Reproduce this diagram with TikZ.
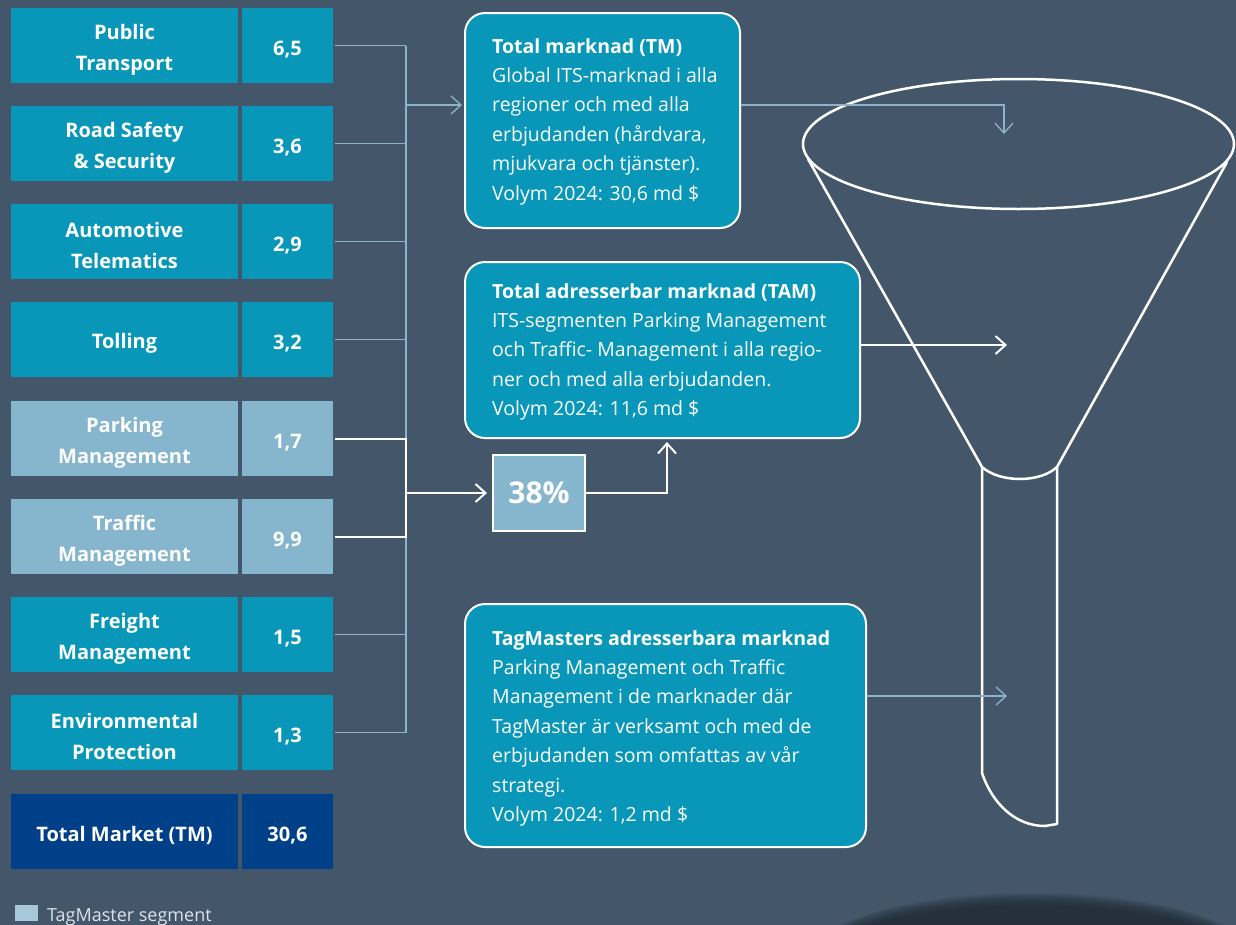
\documentclass[tikz,border=0pt]{standalone}
\usepackage{fontspec}
\setmainfont{Open Sans}
\usetikzlibrary{arrows.meta}
\definecolor{bg}{HTML}{44576A}
\definecolor{tealc}{HTML}{0897B9}
\definecolor{lightc}{HTML}{86B6CD}
\definecolor{darkc}{HTML}{004089}
\definecolor{linec}{HTML}{8DB3C8}
\definecolor{legc}{HTML}{A6C8D8}
\definecolor{legt}{HTML}{DCE3E8}
\definecolor{shd}{HTML}{1C252E}
\newcommand{\dn}[1]{\raisebox{-4pt}[\height][\depth]{#1}}
\newcommand{\two}[2]{\dn{\parbox{227pt}{\centering #1\\#2}}}
\tikzset{
  lab/.style={fill=tealc, text=white, font=\bfseries\fontsize{20}{31}\selectfont, align=center, minimum width=227pt, minimum height=75pt, inner sep=0pt},
  val/.style={lab, minimum width=91pt},
  tmseg/.style={fill=lightc},
  totseg/.style={fill=darkc},
  bigbox/.style={fill=tealc, draw=white, line width=2pt, rounded corners=20pt, inner sep=0pt},
  boxtext/.style={text=white, align=left, inner sep=0pt, anchor=north west, font=\fontsize{19.5}{29.4}\selectfont},
  lightline/.style={draw=linec, line width=1.3pt},
  whiteline/.style={draw=white, line width=2pt},
  tip/.style={-{Straight Barb[length=10pt,width=18pt]}},
  funnel/.style={draw=white, line width=2.5pt, line join=round}
}
\begin{document}
\begin{tikzpicture}[x=1pt,y=-1pt]
\useasboundingbox (0,0) rectangle (1236,924);
\fill[bg] (-5,-5) rectangle (1241,929);
\begin{scope}
\clip (-2,-2) rectangle (1238,926);
\foreach \k in {0,...,9}
  \fill[shd, opacity=0.12] (1032,962) ellipse [x radius={228-2*\k}, y radius={69-1.4*\k}];
\end{scope}

% left column
\node[lab] (l1) at (124.5,45.5) {\two{Public}{Transport}};
\node[val] (v1) at (287.5,45.5) {\dn{6,5}};
\node[lab] (l2) at (124.5,143.5) {\two{Road Safety}{\& Security}};
\node[val] (v2) at (287.5,143.5) {\dn{3,6}};
\node[lab] (l3) at (124.5,241.5) {\two{Automotive}{Telematics}};
\node[val] (v3) at (287.5,241.5) {\dn{2,9}};
\node[lab] (l4) at (124.5,339.5) {\dn{Tolling}};
\node[val] (v4) at (287.5,339.5) {\dn{3,2}};
\node[lab,tmseg] (l5) at (124.5,438.5) {\two{Parking}{Management}};
\node[val,tmseg] (v5) at (287.5,438.5) {\dn{1,7}};
\node[lab,tmseg] (l6) at (124.5,536.5) {\two{Traffic}{Management}};
\node[val,tmseg] (v6) at (287.5,536.5) {\dn{9,9}};
\node[lab] (l7) at (124.5,634.5) {\two{Freight}{Management}};
\node[val] (v7) at (287.5,634.5) {\dn{1,5}};
\node[lab] (l8) at (124.5,732.5) {\two{Environmental}{Protection}};
\node[val] (v8) at (287.5,732.5) {\dn{1,3}};
\node[lab,totseg] (l9) at (124.5,831.5) {\dn{Total Market (TM)}};
\node[val,totseg] (v9) at (287.5,831.5) {\dn{30,6}};

% legend
\node[fill=legc, minimum width=23pt, minimum height=16pt, inner sep=0pt] (leg) at (26.5,913) {};
\node[anchor=base west, inner sep=0pt, text=legt, font=\fontsize{18}{20}\selectfont] (legtext) at (47,921) {TagMaster segment};

% boxes
\node[bigbox, minimum width=275pt, minimum height=215pt] (tm) at (602.5,120.5) {};
\node[boxtext] (tmtext) at (492,38) {\textbf{Total marknad (TM)}\\Global ITS-marknad i alla\\regioner och med alla\\erbjudanden (hårdvara,\\mjukvara och tjänster).\\Volym 2024: 30,6 md \$};
\node[bigbox, minimum width=395pt, minimum height=176pt] (tam) at (662.5,350) {};
\node[boxtext] (tamtext) at (492,283) {\textbf{Total adresserbar marknad (TAM)}\\ITS-segmenten Parking Management\\och Traffic- Management i alla regio-\\ner och med alla erbjudanden.\\Volym 2024: 11,6 md \$};
\node[bigbox, minimum width=401pt, minimum height=243pt] (tag) at (665.5,725.5) {};
\node[boxtext] (tagtext) at (492,630) {\textbf{TagMasters adresserbara marknad}\\Parking Management och Traffic\\Management i de marknader där\\TagMaster är verksamt och med de\\erbjudanden som omfattas av vår\\strategi.\\Volym 2024: 1,2 md \$};
\node[fill=lightc, draw=white, line width=2pt, minimum width=92pt, minimum height=76pt, inner sep=0pt, text=white, font=\bfseries\fontsize{30}{32}\selectfont] (pct) at (539,493) {38\%};

% funnel
\draw[funnel] (1018.5,144) ellipse [x radius=215.5pt, y radius=65pt];
\draw[funnel] (808,159) -- (982,467) .. controls (1000,483) and (1040,483) .. (1057,467) -- (1227,162);
\draw[funnel] (982,467) -- (982,773) .. controls (992,803) and (1015,826) .. (1045,826) -- (1057,824) -- (1057,467);

% coordinates
\coordinate (jx) at (406,0);
\coordinate (tmin) at (406,105);
\coordinate (tamin) at (667,0);
\coordinate (tmdrop) at (1004,134);
\coordinate (tamend) at (1007,345);
\coordinate (tagend) at (1007,696);

% light connectors
\foreach \n in {v1,v2,v3,v4,v7,v8}
  \draw[lightline] ([xshift=2pt]\n.east) -- (\n.east -| jx);
\draw[lightline] (v1.east -| jx) -- (v8.east -| jx);
\draw[lightline,tip,shorten >=2pt] (tmin) -- (tmin -| tm.west);
\draw[lightline,tip] (tmin -| tm.east) -| (tmdrop);
\draw[lightline,tip] (tagend -| tag.east) -- (tagend);

% white connectors
\draw[whiteline] ([xshift=2pt]v5.east) -- (v5.east -| jx) -- (v6.east -| jx) -- ([xshift=2pt]v6.east);
\draw[whiteline,tip,shorten >=5pt] (jx |- pct.west) -- (pct.west);
\draw[whiteline,tip,shorten >=3pt] (pct.east) -| (tamin |- tam.south);
\draw[whiteline,tip] (tamend -| tam.east) -- (tamend);
\end{tikzpicture}
\end{document}
